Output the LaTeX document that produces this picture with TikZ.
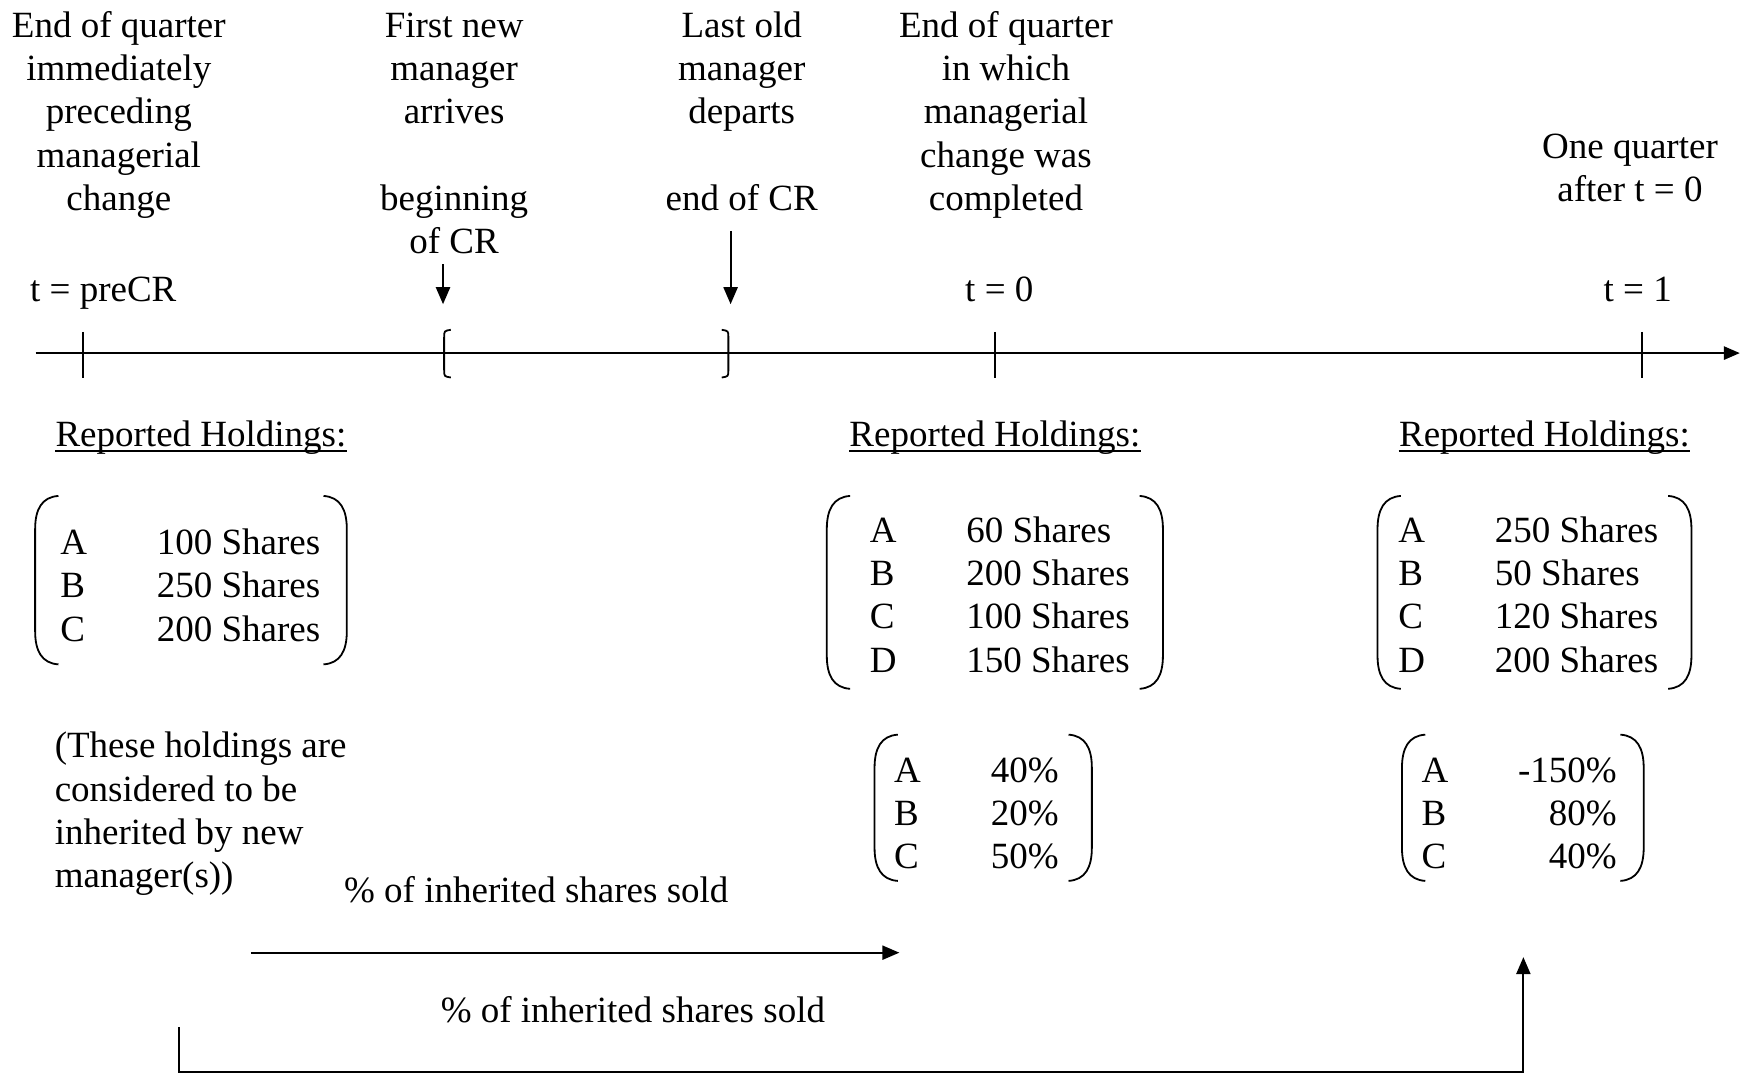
\documentclass[tikz,border=0pt]{standalone}
\usepackage{fontspec}
\setmainfont{Liberation Serif}
\usetikzlibrary{arrows.meta}
\newcommand\mytab[2]{\begin{tabular}[t]{@{}#1@{}}#2\end{tabular}}
\newcommand\lrow[2]{\makebox[48.3pt][l]{#1}#2}
\newcommand\rrow[2]{\makebox[48.3pt][l]{#1}\makebox[49.3pt][r]{#2}}
\newcommand\parens[1]{%
 \draw[paren] ([shift={(21,0)}]#1.north west) .. controls ([shift={(6,1)}]#1.north west) and ([shift={(0,12)}]#1.north west) .. ([shift={(0,30)}]#1.north west) -- ([shift={(0,-30)}]#1.south west) .. controls ([shift={(0,-12)}]#1.south west) and ([shift={(6,-1)}]#1.south west) .. ([shift={(21,0)}]#1.south west);
 \draw[paren] ([shift={(-21,0)}]#1.north east) .. controls ([shift={(-6,1)}]#1.north east) and ([shift={(0,12)}]#1.north east) .. ([shift={(0,30)}]#1.north east) -- ([shift={(0,-30)}]#1.south east) .. controls ([shift={(0,-12)}]#1.south east) and ([shift={(-6,-1)}]#1.south east) .. ([shift={(-21,0)}]#1.south east);}
\begin{document}
\begin{tikzpicture}[x=0.5552pt,y=-0.5552pt,
  txt/.style={inner sep=0pt, anchor=base, font=\fontsize{18.5}{21.65}\selectfont},
  ltxt/.style={txt, anchor=base west},
  pbox/.style n args={2}{draw=none, inner sep=0pt, minimum width={#1*0.5552pt}, minimum height={#2*0.5552pt}},
  paren/.style={line width=0.9pt},
  tline/.style={line width=1.3pt, -{Triangle[length=8pt,width=6.5pt]}},
  arr/.style={line width=1.1pt, -{Triangle[length=8.5pt,width=7pt]}},
  tick/.style={line width=0.8pt},
  brk/.style={line width=0.9pt},
  uline/.style={line width=1pt}]
\useasboundingbox (0,0) rectangle (1568,967);

% top labels
\node[txt] (t1) at (107,33.5) {\mytab{c}{End of quarter\\immediately\\preceding\\managerial\\change}};
\node[txt] (t2) at (409,33.5) {\mytab{c}{First new\\manager\\arrives\\ \\beginning\\of CR}};
\node[txt] (t3) at (668,33.5) {\mytab{c}{Last old\\manager\\departs\\ \\end of CR}};
\node[txt] (t4) at (906,33.5) {\mytab{c}{End of quarter\\in which\\managerial\\change was\\completed}};
\node[txt] (t5) at (1468,142.5) {\mytab{c}{One quarter\\after t = 0}};

\node[txt] (lpre) at (93,271.5) {t = preCR};
\node[txt] (l0) at (900,271.5) {t = 0};
\node[txt] (l1) at (1475,271.5) {t = 1};

% timeline
\coordinate (tls) at (32,318);
\coordinate (tle) at (1567,318);
\draw[tline] (tls) -- (tle);
\draw[tick] (75,299) -- (75,340);
\draw[tick] (896,299) -- (896,340);
\draw[tick] (1479,299) -- (1479,340);
\draw[brk] (406,297) .. controls (400,298) .. (400,304) -- (400,333) .. controls (400,339) .. (406,340);
\draw[brk] (650,297) .. controls (656,298) .. (656,304) -- (656,333) .. controls (656,339) .. (650,340);

% down arrows
\coordinate (d1s) at (399,238);
\coordinate (d1e) at (399,274);
\coordinate (d2s) at (658,208);
\coordinate (d2e) at (658,274);
\draw[arr] (d1s) -- (d1e);
\draw[arr] (d2s) -- (d2e);

% reported holdings
\node[txt] (rh1) at (181,402) {Reported Holdings:};
\node[txt] (rh2) at (896,402) {Reported Holdings:};
\node[txt] (rh3) at (1391,402) {Reported Holdings:};
\foreach \n in {rh1,rh2,rh3}{
  \draw[uline] ([shift={(0,4.5)}]\n.base west) -- ([shift={(0,4.5)}]\n.base east);
}

% matrices
\node[pbox={280}{151}] (b1) at (172,522.5) {};
\node[pbox={302}{173}] (b2) at (896,533.5) {};
\node[pbox={282}{173}] (b3) at (1382,533.5) {};
\node[pbox={195}{131}] (b4) at (885.5,727.5) {};
\node[pbox={217}{131}] (b5) at (1371.5,727.5) {};
\parens{b1}\parens{b2}\parens{b3}\parens{b4}\parens{b5}

\node[ltxt] (m1) at (54,499.5) {\mytab{l}{\lrow{A}{100 Shares}\\\lrow{B}{250 Shares}\\\lrow{C}{200 Shares}}};
\node[ltxt] (m2) at (783,488.5) {\mytab{l}{\lrow{A}{60 Shares}\\\lrow{B}{200 Shares}\\\lrow{C}{100 Shares}\\\lrow{D}{150 Shares}}};
\node[ltxt] (m3) at (1259,488.5) {\mytab{l}{\lrow{A}{250 Shares}\\\lrow{B}{50 Shares}\\\lrow{C}{120 Shares}\\\lrow{D}{200 Shares}}};
\node[ltxt] (m4) at (805,704.5) {\mytab{l}{\lrow{A}{40\%}\\\lrow{B}{20\%}\\\lrow{C}{50\%}}};
\node[ltxt] (m5) at (1280,704.5) {\mytab{l}{\rrow{A}{-150\%}\\\rrow{B}{80\%}\\\rrow{C}{40\%}}};

% notes
\node[ltxt] (inh) at (49,682.5) {\mytab{l}{(These holdings are\\considered to be\\inherited by new\\manager(s))}};
\node[txt] (sold1) at (483,812.5) {\% of inherited shares sold};
\node[txt] (sold2) at (570,920.5) {\% of inherited shares sold};

% bottom arrows
\coordinate (a1s) at (226,858);
\coordinate (a1e) at (810,858);
\draw[arr] (a1s) -- (a1e);
\coordinate (a2s) at (161,925);
\coordinate (a2e) at (1372,862);
\draw[arr] (a2s) |- (1372,965.5) -- (a2e);
\end{tikzpicture}
\end{document}
